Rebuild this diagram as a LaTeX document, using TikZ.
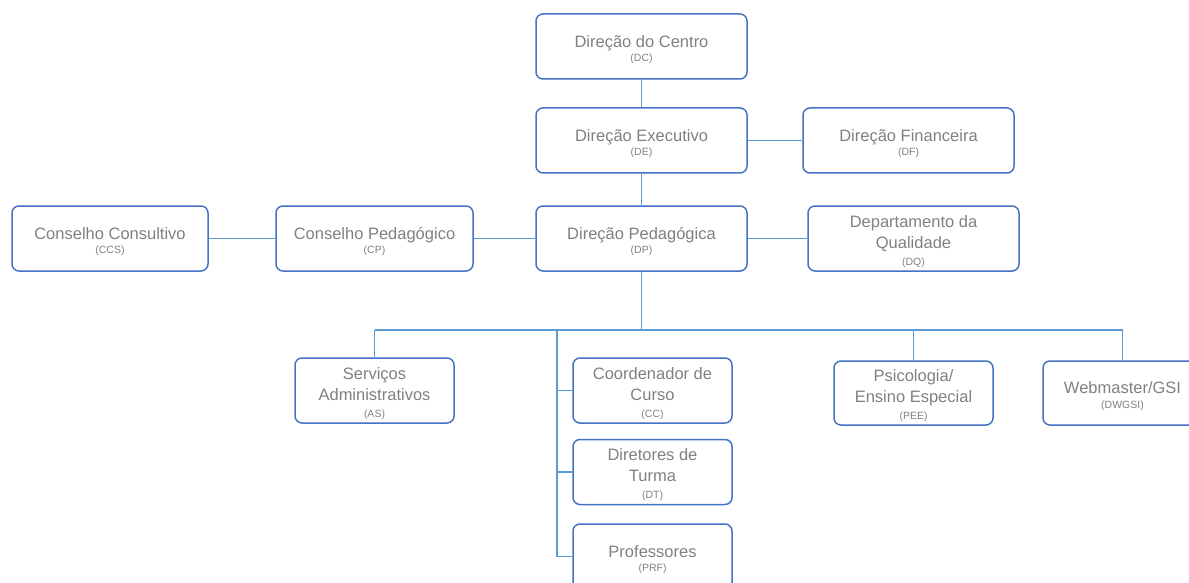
\documentclass[tikz,border=0pt]{standalone}
\usepackage{fontspec}
\setmainfont{Liberation Sans}
\definecolor{boxblue}{RGB}{68,114,196}
\definecolor{linkblue}{RGB}{91,155,213}
\definecolor{txtgray}{RGB}{128,128,128}
\newcommand\smalltag[1]{{\fontsize{10.5}{12}\selectfont #1}}
\newcommand\topstrut{\rule{0pt}{18pt}}
\tikzset{
  orgbox/.style={draw=boxblue, line width=1.5pt, rounded corners=7pt, inner sep=0pt,
    minimum height=65pt, align=center, text=txtgray,
    font=\fontsize{16.5}{21}\selectfont},
  link/.style={draw=linkblue, line width=1.5pt}
}
\begin{document}
\begin{tikzpicture}[x=1pt,y=-1pt]
\useasboundingbox (0,0) rectangle (1189,583);
\clip (0,0) rectangle (1189,583);
% top chain
\node[orgbox, minimum width=211pt] (DC) at (641.5,46.5) {\topstrut Direção do Centro\\[-6.5pt]\smalltag{(DC)}};
\node[orgbox, minimum width=211pt] (DE) at (641.5,140.5) {\topstrut Direção Executivo\\[-6.5pt]\smalltag{(DE)}};
\node[orgbox, minimum width=211pt] (DF) at (908.5,140.5) {\topstrut Direção Financeira\\[-6.5pt]\smalltag{(DF)}};
\node[orgbox, minimum width=211pt] (DP) at (641.5,238.5) {\topstrut Direção Pedagógica\\[-6.5pt]\smalltag{(DP)}};
\node[orgbox, minimum width=211pt] (DQ) at (913.5,238.5) {\topstrut Departamento da\\Qualidade\\[-4pt]\smalltag{(DQ)}};
\node[orgbox, minimum width=196pt] (CCS) at (110,238.5) {\topstrut Conselho Consultivo\\[-6.5pt]\smalltag{(CCS)}};
\node[orgbox, minimum width=197pt] (CP) at (374.5,238.5) {\topstrut Conselho Pedagógico\\[-6.5pt]\smalltag{(CP)}};
% lower level
\node[orgbox, minimum width=159pt] (AS) at (374.5,390.5) {\topstrut Serviços\\Administrativos\\[-4pt]\smalltag{(AS)}};
\node[orgbox, minimum width=159pt] (CC) at (652.5,390.5) {\topstrut Coordenador de\\Curso\\[-4pt]\smalltag{(CC)}};
\node[orgbox, minimum width=159pt] (DT) at (652.5,472) {\topstrut Diretores de\\Turma\\[-4pt]\smalltag{(DT)}};
\node[orgbox, minimum width=159pt] (PRF) at (652.5,556.5) {\topstrut Professores\\[-6.5pt]\smalltag{(PRF)}};
\node[orgbox, minimum width=159pt, minimum height=64pt] (PEE) at (913.5,393) {\topstrut Psicologia/\\Ensino Especial\\[-4pt]\smalltag{(PEE)}};
\node[orgbox, minimum width=159pt, minimum height=64pt] (WEB) at (1122.5,393) {\topstrut Webmaster/GSI\\[-6.5pt]\smalltag{(DWGSI)}};
% connectors
\coordinate (busC) at (641.5,330);
\coordinate (busL) at (374.5,330);
\coordinate (busR) at (1122.5,330);
\coordinate (busM) at (557,330);
\coordinate (busP) at (913.5,330);
\draw[link] (DC) -- (DE);
\draw[link] (DE) -- (DF);
\draw[link] (DE) -- (DP);
\draw[link] (CCS) -- (CP);
\draw[link] (CP) -- (DP);
\draw[link] (DP) -- (DQ);
\draw[link] (DP) -- (busC);
\draw[link] (busL) -- (busR);
\draw[link] (busL) -- (AS);
\draw[link] (busP) -- (PEE);
\draw[link] (busR) -- (WEB);
\draw[link] (busM) |- (PRF.west);
\draw[link] (busM |- CC.west) -- (CC.west);
\draw[link] (busM |- DT.west) -- (DT.west);
\end{tikzpicture}
\end{document}
